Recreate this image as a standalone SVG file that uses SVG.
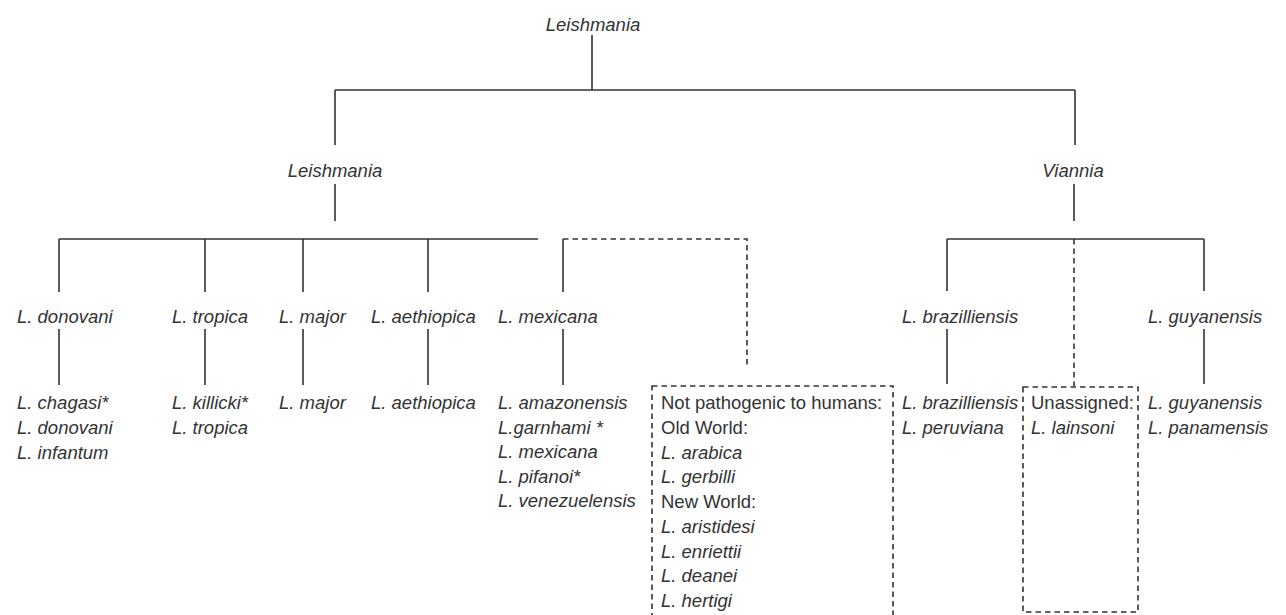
<svg xmlns="http://www.w3.org/2000/svg" width="1286" height="615" viewBox="0 0 1286 615">
<style>
text{font-family:"Liberation Sans",Arial,sans-serif;font-size:18.5px;fill:#333;}
.i{font-style:italic;}
.c{text-anchor:middle;}
.ln{stroke:#333;stroke-width:1.6;fill:none;}
.ds{stroke:#333;stroke-width:1.6;fill:none;stroke-dasharray:5.5 4;}
</style>
<rect width="1286" height="615" fill="#fff"/>
<g id="connectors">
<path class="ln" d="M592 35V90M335 90H1075M335 90V145M1075 90V145"/>
<path class="ln" d="M335 184V221M59 239H538M59 239V292M205 239V292M303 239V292M428 239V292M563 239V292"/>
<path class="ds" d="M563 239H747V368"/>
<path class="ln" d="M1074 184V221M947 239H1204M947 239V291M1204 239V291"/>
<path class="ds" d="M1074 239V386"/>
<path class="ln" d="M59 329V385M205 329V385M303 329V385M428 329V385M563 329V385M947 329V384M1204 329V384"/>
</g>
<g id="root"><text class="i c" x="593" y="31">Leishmania</text></g>
<g id="sub-leishmania"><text class="i c" x="335" y="177">Leishmania</text></g>
<g id="sub-viannia"><text class="i c" x="1073" y="177">Viannia</text></g>
<g id="donovani"><text class="i" x="17" y="323">L. donovani</text></g>
<g id="tropica"><text class="i" x="172" y="323">L. tropica</text></g>
<g id="major"><text class="i" x="279" y="323">L. major</text></g>
<g id="aethiopica"><text class="i" x="371" y="323">L. aethiopica</text></g>
<g id="mexicana"><text class="i" x="498" y="323">L. mexicana</text></g>
<g id="brazilliensis"><text class="i" x="902" y="323">L. brazilliensis</text></g>
<g id="guyanensis"><text class="i" x="1148" y="323">L. guyanensis</text></g>
<g id="donovani-list">
<text class="i" x="17" y="409">L. chagasi*</text>
<text class="i" x="17" y="434">L. donovani</text>
<text class="i" x="17" y="459">L. infantum</text>
</g>
<g id="tropica-list">
<text class="i" x="172" y="409">L. killicki*</text>
<text class="i" x="172" y="434">L. tropica</text>
</g>
<g id="major-list"><text class="i" x="279" y="409">L. major</text></g>
<g id="aethiopica-list"><text class="i" x="371" y="409">L. aethiopica</text></g>
<g id="mexicana-list">
<text class="i" x="498" y="409">L. amazonensis</text>
<text class="i" x="498" y="434">L.garnhami *</text>
<text class="i" x="498" y="458">L. mexicana</text>
<text class="i" x="498" y="483">L. pifanoi*</text>
<text class="i" x="498" y="507">L. venezuelensis</text>
</g>
<g id="non-pathogenic">
<rect class="ds" x="652" y="386" width="241" height="260"/>
<text x="661" y="409">Not pathogenic to humans:</text>
<text x="661" y="434">Old World:</text>
<text class="i" x="661" y="459">L. arabica</text>
<text class="i" x="661" y="483">L. gerbilli</text>
<text x="661" y="508">New World:</text>
<text class="i" x="661" y="533">L. aristidesi</text>
<text class="i" x="661" y="558">L. enriettii</text>
<text class="i" x="661" y="582">L. deanei</text>
<text class="i" x="661" y="607">L. hertigi</text>
</g>
<g id="brazilliensis-list">
<text class="i" x="902" y="409">L. brazilliensis</text>
<text class="i" x="902" y="434">L. peruviana</text>
</g>
<g id="unassigned">
<rect class="ds" x="1023" y="387" width="115" height="225"/>
<text x="1031" y="409">Unassigned:</text>
<text class="i" x="1031" y="434">L. lainsoni</text>
</g>
<g id="guyanensis-list">
<text class="i" x="1148" y="409">L. guyanensis</text>
<text class="i" x="1148" y="434">L. panamensis</text>
</g>
</svg>
